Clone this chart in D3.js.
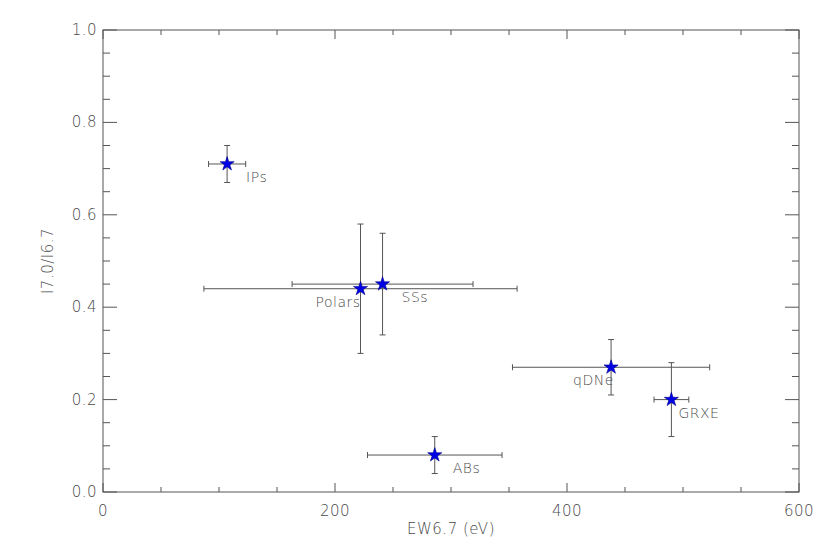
<!DOCTYPE html>
<html>
<head>
<meta charset="utf-8">
<script src="https://cdn.jsdelivr.net/npm/d3@7"></script>
<style>
  body { margin: 0; background: #fff; }
  text { font-family: "DejaVu Sans", sans-serif; font-weight: 200; fill: #4a4a4a; letter-spacing: 0.5px; }
</style>
</head>
<body>
<svg id="chart" width="830" height="554"></svg>
<script>
// source classes and measured values
var categories = ["IPs", "Polars", "SSs", "ABs", "qDNe", "GRXE"];
var ew       = [107, 222, 241, 286, 438, 490];   // EW6.7 (eV)
var ewErr    = [16, 135, 78, 58, 85, 15];
var ratio    = [0.71, 0.44, 0.45, 0.08, 0.27, 0.20]; // I7.0/I6.7
var ratioErr = [0.04, 0.14, 0.11, 0.04, 0.06, 0.08];

var xTicks = [0, 200, 400, 600];
var yTicks = [0.0, 0.2, 0.4, 0.6, 0.8, 1.0];

var margin = {left: 103, top: 30, right: 31, bottom: 62},
    width = 830 - margin.left - margin.right,
    height = 554 - margin.top - margin.bottom;

var axisColor = "#555";

var svg = d3.select("#chart")
  .append("g")
    .attr("transform", "translate(" + margin.left + "," + margin.top + ")");

var x = d3.scaleLinear().domain([0, 600]).range([0, width]);
var y = d3.scaleLinear().domain([0, 1]).range([height, 0]);

// frame
svg.append("rect")
  .attr("width", width).attr("height", height)
  .attr("fill", "none").attr("stroke", axisColor).attr("stroke-width", 1);

// IDL style inward ticks on all four sides
var xMinor = d3.range(0, 601, 50), yMinor = d3.range(0, 1.001, 0.05);
function isMajorX(v) { return v % 200 === 0; }
function isMajorY(v) { return Math.abs(v * 5 - Math.round(v * 5)) < 1e-6; }

svg.selectAll(".xtick-b").data(xMinor).enter().append("line")
  .attr("x1", d => x(d)).attr("x2", d => x(d))
  .attr("y1", height).attr("y2", d => height - (isMajorX(d) ? 9 : 5))
  .attr("stroke", axisColor);
svg.selectAll(".xtick-t").data(xMinor).enter().append("line")
  .attr("x1", d => x(d)).attr("x2", d => x(d))
  .attr("y1", 0).attr("y2", d => isMajorX(d) ? 9 : 5)
  .attr("stroke", axisColor);
svg.selectAll(".ytick-l").data(yMinor).enter().append("line")
  .attr("y1", d => y(d)).attr("y2", d => y(d))
  .attr("x1", 0).attr("x2", d => isMajorY(d) ? 14 : 7)
  .attr("stroke", axisColor);
svg.selectAll(".ytick-r").data(yMinor).enter().append("line")
  .attr("y1", d => y(d)).attr("y2", d => y(d))
  .attr("x1", width).attr("x2", d => width - (isMajorY(d) ? 14 : 7))
  .attr("stroke", axisColor);

// tick labels
svg.selectAll(".xlab").data(xTicks).enter().append("text")
  .attr("x", d => x(d)).attr("y", height + 24)
  .attr("text-anchor", "middle")
  .style("font-size", "15px")
  .text(d => d);
svg.selectAll(".ylab").data(yTicks).enter().append("text")
  .attr("x", -6).attr("y", d => y(d) + 5)
  .attr("text-anchor", "end")
  .style("font-size", "15px")
  .text(d => d.toFixed(1));

// axis titles
svg.append("text")
  .attr("x", width / 2).attr("y", height + 42)
  .attr("text-anchor", "middle")
  .style("font-size", "15px")
  .text("EW6.7 (eV)");
svg.append("text")
  .attr("transform", "translate(" + (-50) + "," + (height / 2) + ") rotate(-90)")
  .attr("text-anchor", "middle")
  .style("font-size", "15px")
  .text("I7.0/I6.7");

var pts = categories.map(function(c, i) {
  return {name: c, x: ew[i], xe: ewErr[i], y: ratio[i], ye: ratioErr[i]};
});

// error bars
var cap = 3;
var eb = svg.selectAll(".err").data(pts).enter().append("g")
  .attr("stroke", axisColor).attr("stroke-width", 1);
eb.append("line")
  .attr("x1", d => x(d.x - d.xe)).attr("x2", d => x(d.x + d.xe))
  .attr("y1", d => y(d.y)).attr("y2", d => y(d.y));
eb.append("line")
  .attr("x1", d => x(d.x - d.xe)).attr("x2", d => x(d.x - d.xe))
  .attr("y1", d => y(d.y) - cap).attr("y2", d => y(d.y) + cap);
eb.append("line")
  .attr("x1", d => x(d.x + d.xe)).attr("x2", d => x(d.x + d.xe))
  .attr("y1", d => y(d.y) - cap).attr("y2", d => y(d.y) + cap);
eb.append("line")
  .attr("x1", d => x(d.x)).attr("x2", d => x(d.x))
  .attr("y1", d => y(d.y - d.ye)).attr("y2", d => y(d.y + d.ye));
eb.append("line")
  .attr("x1", d => x(d.x) - cap).attr("x2", d => x(d.x) + cap)
  .attr("y1", d => y(d.y - d.ye)).attr("y2", d => y(d.y - d.ye));
eb.append("line")
  .attr("x1", d => x(d.x) - cap).attr("x2", d => x(d.x) + cap)
  .attr("y1", d => y(d.y + d.ye)).attr("y2", d => y(d.y + d.ye));

// stars
svg.selectAll(".star").data(pts).enter().append("path")
  .attr("d", d3.symbol().type(d3.symbolStar).size(62))
  .attr("transform", d => "translate(" + x(d.x) + "," + y(d.y) + ")")
  .attr("fill", "#0000e6")
  .attr("stroke", "#00008b").attr("stroke-width", 0.6);

// point labels (offsets picked by eye so they don't sit on the bars)
var labelDx = {IPs: 19, Polars: 0, SSs: 19, ABs: 18, qDNe: -38, GRXE: 7};
svg.selectAll(".plab").data(pts).enter().append("text")
  .attr("x", d => x(d.x) + labelDx[d.name])
  .attr("y", d => y(d.y) + 18)
  .attr("text-anchor", d => d.name === "Polars" ? "end" : "start")
  .style("font-size", "14px")
  .text(d => d.name);
</script>
</body>
</html>
